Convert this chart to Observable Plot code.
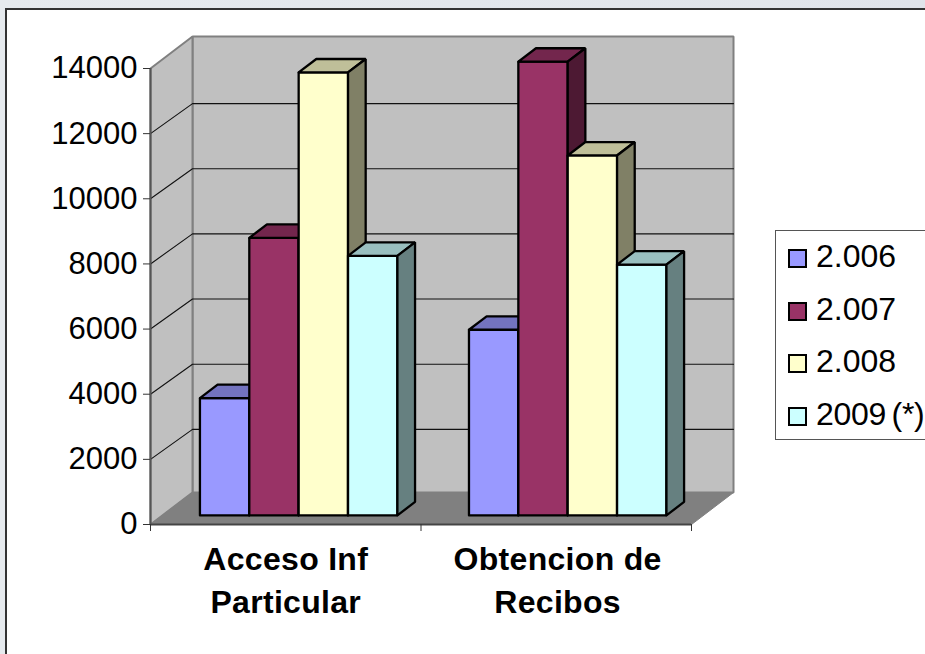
<!DOCTYPE html>
<html>
<head>
<meta charset="utf-8">
<script src="https://cdn.jsdelivr.net/npm/d3@7"></script>
<script src="https://cdn.jsdelivr.net/npm/@observablehq/plot@0.6"></script>
<style>
html,body{margin:0;padding:0;width:925px;height:654px;overflow:hidden;background:linear-gradient(90deg,#e6eaee,#e0e4ea);}
#paper{position:absolute;left:5px;top:8px;width:930px;height:660px;background:#fff;border-left:2px solid #333;border-top:2px solid #333;box-sizing:border-box;}
#chart{position:absolute;left:0;top:0;}
#legend{position:absolute;left:775px;top:230px;width:170px;height:210px;background:#fff;border:1px solid #555;box-sizing:border-box;font:32px "Liberation Sans",Arial,sans-serif;color:#000;}
#legend .it{position:absolute;left:12px;white-space:nowrap;line-height:30px;}
#legend .sw{display:inline-block;width:15px;height:15px;border:2px solid #000;vertical-align:baseline;margin-right:9px;position:relative;top:1px;letter-spacing:0;}
</style>
</head>
<body>
<div id="paper"></div>
<div id="chart"></div>
<div id="legend"></div>
<script>
const categories = ["Acceso Inf\nParticular", "Obtencion de\nRecibos"];
const seriesNames = ["2.006", "2.007", "2.008", "2009 (*)"];
const colors = ["#9999FF", "#993366", "#FFFFCC", "#CCFFFF"];
const topColors = ["#7373BF", "#73264D", "#BFBF99", "#99BFBF"];
const sideColors = ["#4D4D80", "#4D1933", "#808066", "#668080"];
const v2006 = [3600, 5700];
const v2007 = [8520, 13930];
const v2008 = [13600, 11050];
const v2009 = [7970, 7700];
const yTicks = [0, 2000, 4000, 6000, 8000, 10000, 12000, 14000];
const xTicks = [0, 1, 2];
const series = [v2006, v2007, v2008, v2009];

// pseudo-3D projection, in data units
const depthX = 0.1553, depthY = 982, gridDepthY = 922;
const P = (x, v, d) => ({x: x + d * depthX, y: v + d * depthY});
const groupStart = [0.1385, 0.1331], barW = 0.1825, d0 = 0.285, d1 = 0.705;

const poly = (arr, id, pts, color) => { pts.concat([pts[0]]).forEach(p => arr.push({...p, id, color})); };

const wall = [], floor = [], bars = [], grid = [];
poly(wall, "back", [P(0,0,1), P(2,0,1), P(2,14000,1), P(0,14000,1)], "#C0C0C0");
poly(wall, "side", [P(0,0,0), P(0,0,1), P(0,14000,1), P(0,14000,0)], "#C0C0C0");
poly(floor, "floor", [P(0,0,0), P(2,0,0), P(2,0,1), P(0,0,1)], "#808080");
yTicks.slice(1, -1).forEach(t => {
  grid.push({x: 0, y: t, id: t}, {x: depthX, y: t + gridDepthY, id: t}, {x: 2 + depthX, y: t + gridDepthY, id: t});
});
categories.forEach((c, ci) => {
  series.forEach((s, si) => {
    const a = ci + groupStart[ci] + si * barW, b = a + barW, v = s[ci];
    poly(bars, `f${ci}${si}`, [P(a,0,d0), P(b,0,d0), P(b,v,d0), P(a,v,d0)], colors[si]);
    poly(bars, `t${ci}${si}`, [P(a,v,d0), P(b,v,d0), P(b,v,d1), P(a,v,d1)], topColors[si]);
    poly(bars, `s${ci}${si}`, [P(b,0,d0), P(b,0,d1), P(b,v,d1), P(b,v,d0)], sideColors[si]);
  });
});
const labels = categories.map((c, i) => ({x: i + 0.5 + (i ? 0.005 : 0), y: 0, c}));

const plot = Plot.plot({
  width: 925, height: 654,
  marginLeft: 150, marginRight: 234, marginTop: 68, marginBottom: 130,
  style: {background: "transparent", fontFamily: '"Liberation Sans",Arial,sans-serif', color: "#000", overflow: "visible"},
  x: {domain: [0, 2], axis: null},
  y: {domain: [0, 14000], axis: null},
  color: {type: "identity"},
  marks: [
    Plot.line(wall, {x:"x", y:"y", z:"id", fill:"color", stroke:"#808080", strokeWidth:2, strokeLinejoin:"miter"}),
    Plot.line(floor, {x:"x", y:"y", z:"id", fill:"color", stroke:"#808080", strokeWidth:1}),
    Plot.line(grid, {x:"x", y:"y", z:"id", stroke:"#111", strokeWidth:1.1}),
    Plot.ruleY([0], {stroke:"#444", strokeWidth:2}),
    Plot.ruleX([0], {stroke:"#555", strokeWidth:2}),
    Plot.line(bars, {x:"x", y:"y", z:"id", fill:"color", stroke:"#000", strokeWidth:2.3, strokeLinejoin:"miter"}),
    Plot.axisY({ticks: yTicks, tickSize: 7, tickPadding: 6, fontSize: 31, tickFormat: d => String(d), label: null, stroke:"#333"}),
    Plot.axisX({ticks: xTicks, tickSize: 7, tickFormat: () => "", label: null, stroke:"#333"}),
    Plot.text(labels, {x:"x", y:"y", text:"c", dy: 53, lineHeight: 1.35, fontSize: 32, fontWeight:"bold", fill:"#000", textAnchor:"middle", lineAnchor:"middle"})
  ]
});
document.getElementById("chart").appendChild(plot);
plot.querySelectorAll("text").forEach(t => { if (t.textContent.includes("Acceso") || t.textContent.includes("Obtencion")) t.style.letterSpacing = "0.3px"; });

const lg = document.getElementById("legend");
const rowTops = [10, 63, 115, 168];
seriesNames.forEach((n, i) => {
  const it = document.createElement("div");
  it.className = "it";
  it.style.top = rowTops[i] + "px";
  if (n.includes(" ")) { it.style.wordSpacing = "-3px"; it.style.letterSpacing = "-0.3px"; }
  const sw = document.createElement("span");
  sw.className = "sw";
  sw.style.background = colors[i];
  it.appendChild(sw);
  it.appendChild(document.createTextNode(n));
  lg.appendChild(it);
});
</script>
</body>
</html>
